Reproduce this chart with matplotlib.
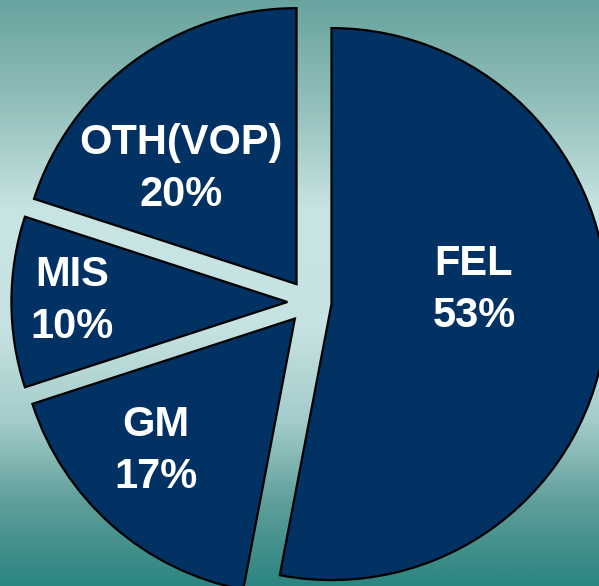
import numpy as np
import matplotlib
matplotlib.use("Agg")
import matplotlib.pyplot as plt
from matplotlib.colors import LinearSegmentedColormap

# slice data (clockwise from 12 o'clock)
labels = ["FEL", "GM", "MIS", "OTH(VOP)"]
shares = [53, 17, 10, 20]

# label anchor points, in pie radius units from the pie centre
label_xy = [(0.596, 0.043), (-0.556, -0.540), (-0.861, 0.004), (-0.466, 0.482)]

W, H = 599, 586
cx, cy, r = 309.5, 302, 276  # pie centre / radius in pixels (from top left)

fig = plt.figure(figsize=(W / 100, H / 100), dpi=100)

# background gradient: teal top, pale middle, darker teal bottom
bg = fig.add_axes([0, 0, 1, 1])
bg_cmap = LinearSegmentedColormap.from_list("bg", [
    (0.00, "#69a39f"),
    (0.18, "#93c0bc"),
    (0.36, "#c9e4e4"),
    (0.56, "#c6e2e2"),
    (0.72, "#a3ccca"),
    (0.86, "#5f9e9a"),
    (1.00, "#2c8581"),
])
grad = np.linspace(0, 1, 400).reshape(-1, 1)
bg.imshow(grad, cmap=bg_cmap, aspect="auto", extent=[0, 1, 0, 1])
bg.axis("off")

ax = fig.add_axes([0, 0, 1, 1])
ax.patch.set_alpha(0)

ax.pie(shares, startangle=90, counterclock=False, radius=1,
       explode=[0.08] * 4, colors=["#013263"] * 4,
       wedgeprops=dict(edgecolor="black", linewidth=1.6))

# pie() resets the limits, so set them afterwards
ax.set_xlim(-cx / r, (W - cx) / r)
ax.set_ylim(-(H - cy) / r, cy / r)
ax.set_aspect("equal")
ax.axis("off")

for name, val, (x, y) in zip(labels, shares, label_xy):
    ax.text(x, y, f"{name}\n{val}%", ha="center", va="center",
            color="white", fontsize=30, fontweight="bold",
            family="Liberation Sans", linespacing=1.4)

fig.savefig("out.png", dpi=100)
